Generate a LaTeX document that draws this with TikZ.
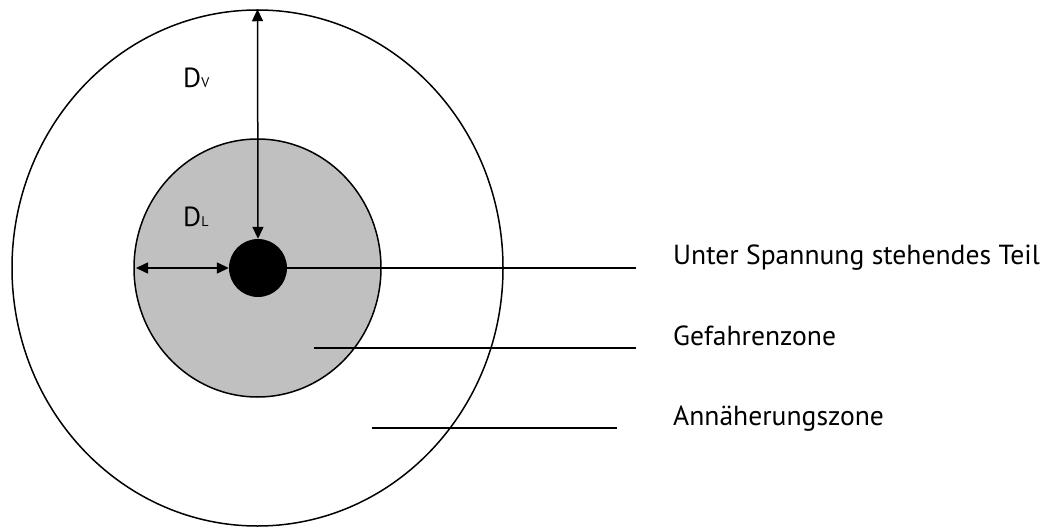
\documentclass[tikz,border=0pt]{standalone}
\usepackage{fontspec}
\setmainfont{PT Sans}
\usetikzlibrary{arrows.meta,shapes.geometric}
\begin{document}
\begin{tikzpicture}[x=1pt,y=-1pt,
  zone/.style={draw=black,line width=1.5pt,ellipse,inner sep=0pt},
  dimline/.style={line width=1.5pt,{Triangle[length=12pt,width=11pt]}-{Triangle[length=12pt,width=11pt]}},
  leader/.style={line width=1.6pt},
  lbl/.style={anchor=base west,inner sep=0pt,font=\fontsize{27.6}{32}\selectfont},
  sub/.style={font=\fontsize{14}{16}\selectfont}]
\useasboundingbox (0,0) rectangle (1051,529);
\node[zone,minimum width=491pt,minimum height=516pt] (outer) at (257.5,268) {};
\node[zone,fill={rgb,255:red,192;green,192;blue,192},minimum width=247pt,minimum height=258pt] (danger) at (257.5,268) {};
\node[circle,fill=black,inner sep=0pt,minimum size=58pt] (core) at (258,268) {};
\draw[dimline] (core.north) -- (outer.north);
\draw[dimline] (core.west) -- (136,268);
\coordinate (e1) at (636,268);
\coordinate (s2) at (314,348);
\coordinate (e2) at (636,348);
\coordinate (s3) at (372,428);
\coordinate (e3) at (617,428);
\draw[leader] (core.east) -- (e1);
\draw[leader] (s2) -- (e2);
\draw[leader] (s3) -- (e3);
\node[lbl] (t1) at (673,264) {Unter Spannung stehendes Teil};
\node[lbl] (t2) at (673,345) {Gefahrenzone};
\node[lbl] (t3) at (673,425) {Annäherungszone};
\node[lbl] (dv) at (183,88) {D{\fontsize{14}{16}\selectfont V}};
\node[lbl] (dl) at (183,227) {D{\fontsize{14}{16}\selectfont L}};
\end{tikzpicture}
\end{document}
